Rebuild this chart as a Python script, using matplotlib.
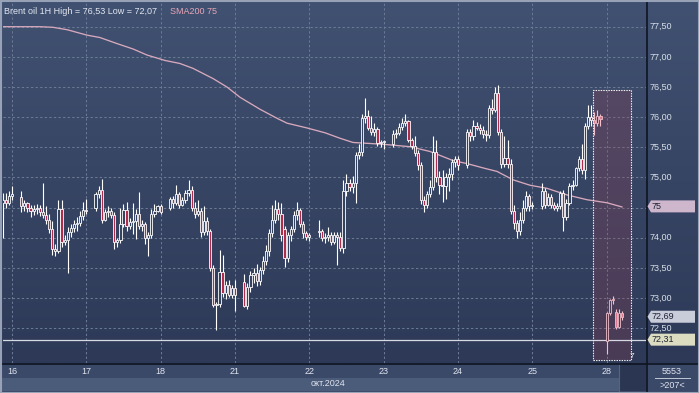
import numpy as np
import matplotlib
matplotlib.use("Agg")
import matplotlib.pyplot as plt
from matplotlib.patches import Rectangle, Polygon
from matplotlib.colors import LinearSegmentedColormap
from matplotlib.transforms import blended_transform_factory

plt.rcParams['font.family'] = ['Liberation Sans', 'DejaVu Sans']

# ---------------- data ----------------
# trading sessions: (first hourly slot, number of bars); 24 slots per calendar day
sessions = [(-3, 4), (3, 22), (27, 22), (51, 22), (75, 22), (99, 22),
            (123, 22), (147, 22), (171, 20), (192, 6)]

opens = [
    74.58, 74.63, 74.58, 74.70,
    74.68, 74.52, 74.58, 74.50, 74.45, 74.48, 74.50, 74.42, 74.38, 74.30, 74.15,
    73.82, 73.78, 74.48, 73.93, 73.97, 74.10, 74.16, 74.22, 74.25, 74.36, 74.46,
    74.50, 74.72, 74.80, 74.30, 74.42, 74.45, 74.38, 73.93, 73.96, 74.22, 74.46,
    74.20, 74.26, 74.28, 74.40, 74.20, 74.22, 74.00, 74.05, 74.40, 74.45, 74.52,
    74.50, 74.65, 74.58, 74.72, 74.55, 74.62, 74.75, 74.80, 74.50, 74.40, 74.45,
    74.10, 74.28, 74.12, 73.50, 72.88, 72.90, 73.44, 73.08, 73.22, 73.05, 73.17,
    73.27, 72.87, 73.18, 73.38, 73.42, 73.28, 73.46, 73.62, 73.78, 74.08, 74.30,
    74.48, 74.40, 74.15, 73.66, 74.05, 74.15, 74.38, 74.46, 74.22, 74.08, 74.02,
    74.10, 74.12, 74.00, 74.02, 74.05, 73.93, 74.05, 74.02, 73.83, 74.78, 74.90,
    74.84, 74.90, 75.38, 75.42, 75.98, 76.02, 75.82, 75.76, 75.80, 75.57, 75.58,
    75.55, 75.72, 75.74, 75.83, 75.90, 75.94, 75.62, 75.52, 75.40, 75.20, 74.62,
    74.55, 74.72, 74.84, 75.43, 75.00, 74.88, 74.86, 75.00, 75.05, 75.25, 75.30,
    75.20, 75.75, 75.68, 75.86, 75.82, 75.78, 75.72, 75.70, 76.15, 76.12, 76.40,
    75.75, 75.22, 75.32, 75.22, 74.45, 74.25, 74.12, 74.30, 74.50, 74.70, 74.52,
    74.52, 74.78, 74.55, 74.68, 74.55, 74.50, 74.52, 74.75, 74.35, 74.58,
    74.85, 74.88, 75.15, 75.30, 75.12, 75.85, 76.00, 75.95, 75.90, 76.02,
    72.28, 72.75, 72.96, 72.77, 72.52, 72.76,
]
highs = [
    74.74, 74.75, 74.78, 74.85,
    74.78, 74.62, 74.60, 74.55, 74.55, 74.56, 74.55, 74.90, 74.52, 74.40, 74.28,
    73.90, 74.62, 74.62, 74.05, 74.18, 74.22, 74.30, 74.35, 74.45, 74.60, 74.65,
    74.76, 74.86, 74.98, 74.48, 74.52, 74.50, 74.42, 74.00, 74.50, 74.56, 74.60,
    74.32, 74.58, 74.48, 74.76, 74.30, 74.26, 74.10, 74.48, 74.56, 74.55, 74.56,
    74.68, 74.70, 74.87, 74.76, 74.68, 74.80, 74.95, 74.85, 74.60, 74.62, 74.50,
    74.53, 74.35, 74.15, 73.55, 72.93, 73.79, 73.71, 73.28, 73.30, 73.22, 73.30,
    73.40, 73.25, 73.45, 73.50, 73.56, 73.52, 73.70, 73.88, 74.15, 74.55, 74.62,
    74.60, 74.58, 74.20, 74.10, 74.20, 74.45, 74.60, 74.50, 74.28, 74.12, 74.08,
    74.30, 74.15, 74.08, 74.18, 74.10, 74.10, 74.10, 74.10, 74.95, 75.05, 74.98,
    75.02, 75.42, 75.55, 76.05, 76.31, 76.12, 76.02, 75.90, 75.84, 75.62, 75.62,
    75.78, 75.80, 75.90, 75.98, 76.05, 75.96, 75.66, 75.68, 75.45, 75.25, 74.70,
    74.78, 74.95, 75.68, 75.62, 75.10, 75.12, 75.08, 75.15, 75.30, 75.35, 75.35,
    75.80, 75.80, 75.95, 75.92, 75.88, 75.85, 75.78, 76.20, 76.30, 76.50, 76.53,
    75.80, 75.68, 75.62, 75.30, 74.55, 74.30, 74.42, 74.62, 74.78, 74.72, 74.60,
    74.90, 74.82, 74.75, 74.72, 74.60, 74.58, 74.78, 74.80, 74.65, 74.90,
    74.95, 75.18, 75.35, 75.55, 75.90, 76.20, 76.20, 76.08, 76.12, 76.06,
    72.77, 72.99, 73.03, 72.82, 72.82, 72.78,
]
lows = [
    73.99, 74.49, 74.55, 74.62,
    74.43, 74.45, 74.42, 74.35, 74.38, 74.40, 74.36, 74.32, 74.22, 74.08, 73.72,
    73.70, 73.74, 73.85, 73.88, 73.42, 74.02, 74.10, 74.12, 74.20, 74.30, 74.40,
    74.45, 74.66, 74.25, 74.28, 74.35, 74.32, 73.82, 73.85, 73.92, 74.18, 74.12,
    74.14, 74.06, 73.98, 74.15, 74.12, 73.90, 73.70, 74.00, 74.35, 74.42, 74.40,
    74.46, 74.50, 74.55, 74.50, 74.52, 74.58, 74.70, 74.45, 74.32, 74.36, 74.02,
    74.05, 74.05, 73.45, 72.85, 72.47, 72.85, 73.02, 72.99, 73.02, 73.00, 72.78,
    72.85, 72.82, 73.10, 73.25, 73.20, 73.22, 73.40, 73.55, 73.70, 74.02, 74.25,
    74.30, 73.95, 73.52, 73.60, 73.95, 74.10, 74.30, 74.18, 74.00, 73.96, 73.95,
    74.02, 73.95, 73.92, 73.95, 73.88, 73.90, 73.55, 73.78, 73.75, 74.70, 74.78,
    74.75, 74.58, 75.30, 75.35, 75.90, 75.78, 75.70, 75.68, 75.52, 75.50, 75.48,
    75.50, 75.66, 75.70, 75.78, 75.85, 75.58, 75.48, 75.36, 75.12, 74.56, 74.42,
    74.50, 74.68, 74.80, 74.92, 74.72, 74.60, 74.65, 74.78, 74.95, 75.18, 75.12,
    75.15, 75.60, 75.62, 75.78, 75.72, 75.65, 75.60, 75.65, 76.05, 76.08, 75.70,
    75.15, 75.18, 75.15, 74.40, 74.15, 73.99, 74.05, 74.25, 74.45, 74.45, 74.48,
    74.48, 74.50, 74.52, 74.50, 74.46, 74.45, 74.48, 74.12, 74.30, 74.55,
    74.80, 74.85, 75.10, 75.05, 74.98, 75.80, 75.85, 75.70, 75.85, 75.85,
    72.07, 72.72, 72.90, 72.48, 72.50, 72.64,
]
closes = [
    74.63, 74.58, 74.70, 74.72,
    74.52, 74.58, 74.50, 74.45, 74.48, 74.50, 74.42, 74.38, 74.30, 74.15, 73.82,
    73.78, 74.48, 73.93, 73.97, 74.10, 74.16, 74.22, 74.25, 74.36, 74.46, 74.44,
    74.72, 74.80, 74.30, 74.42, 74.45, 74.38, 73.93, 73.96, 74.22, 74.46, 74.20,
    74.26, 74.28, 74.40, 74.20, 74.22, 74.00, 74.05, 74.40, 74.45, 74.52, 74.43,
    74.65, 74.58, 74.72, 74.55, 74.62, 74.75, 74.80, 74.50, 74.40, 74.45, 74.10,
    74.28, 74.12, 73.50, 72.88, 72.90, 73.44, 73.08, 73.22, 73.05, 73.17, 73.05,
    72.87, 73.18, 73.38, 73.42, 73.28, 73.46, 73.62, 73.78, 74.08, 74.30, 74.48,
    74.40, 74.05, 73.66, 74.05, 74.15, 74.38, 74.46, 74.22, 74.08, 74.02, 74.04,
    74.12, 74.00, 74.02, 74.05, 73.93, 74.05, 74.02, 73.83, 74.78, 74.90, 74.84,
    74.90, 75.38, 75.42, 75.98, 76.02, 75.82, 75.76, 75.80, 75.57, 75.58, 75.60,
    75.72, 75.74, 75.83, 75.90, 75.94, 75.62, 75.52, 75.40, 75.20, 74.62, 74.55,
    74.72, 74.84, 75.43, 75.00, 74.88, 74.86, 75.00, 75.05, 75.25, 75.30, 75.20,
    75.75, 75.68, 75.86, 75.82, 75.78, 75.72, 75.70, 76.15, 76.12, 76.40, 75.75,
    75.22, 75.32, 75.22, 74.45, 74.25, 74.12, 74.30, 74.50, 74.70, 74.52, 74.55,
    74.78, 74.55, 74.68, 74.55, 74.50, 74.52, 74.75, 74.35, 74.58, 74.85,
    74.88, 75.15, 75.30, 75.12, 75.85, 76.00, 75.95, 75.90, 76.02, 75.97,
    72.75, 72.96, 72.99, 72.52, 72.76, 72.69,
]

sma_slots = [-2.9, 9.0, 13.2, 17.8, 24.2, 28.4, 33.9, 39.1, 43.6, 49.4, 54.2, 58.4,
             64.9, 69.4, 73.6, 80.1, 85.6, 88.8, 95.3, 101.1, 105.9, 110.1, 119.8,
             128.5, 135.0, 142.4, 146.9, 152.7, 156.6, 161.8, 167.3, 172.7, 179.2,
             185.7, 192.1, 197.0]
sma_values = [77.50, 77.50, 77.49, 77.45, 77.36, 77.32, 77.22, 77.13, 77.03, 76.94,
              76.89, 76.81, 76.64, 76.50, 76.33, 76.13, 75.98, 75.90, 75.82, 75.74,
              75.65, 75.58, 75.55, 75.51, 75.43, 75.28, 75.23, 75.15, 75.10, 74.96,
              74.87, 74.82, 74.71, 74.63, 74.58, 74.51]

day_ticks = [0, 24, 48, 72, 96, 120, 144, 168, 192]
day_labels = ["16", "17", "18", "21", "22", "23", "24", "25", "28"]
month_label = "окт.2024"

price_grid = [72.5, 73.0, 73.5, 74.0, 74.5, 75.0, 75.5, 76.0, 76.5, 77.0, 77.5]
price_ticks = [72.5, 73.0, 73.5, 74.0, 75.0, 75.5, 76.0, 76.5, 77.0, 77.5]
price_tick_labels = ["72,50", "73,00", "73,50", "74,00", "75,00", "75,50",
                     "76,00", "76,50", "77,00", "77,50"]

last_price, last_label = 72.69, "72,69"
ref_price, ref_label = 72.31, "72,31"
sma_last, sma_label = 74.52, "75"

title_text = "Brent oil 1H High = 76,53 Low = 72,07"
sma_text = "SMA200 75"
bar_count_text = "5553"
bar_visible_text = ">207<"

# highlight window (slot range, price range)
hl_x0, hl_x1 = 187.6, 199.9
hl_y0, hl_y1 = 71.97, 76.45

# ---------------- layout ----------------
W, H = 699, 393
fig = plt.figure(figsize=(W / 100, H / 100), dpi=100)
fig.patch.set_facecolor('#3a4868')

def px_rect(x0, y0, x1, y1):
    return [x0 / W, 1 - y1 / H, (x1 - x0) / W, (y1 - y0) / H]

PLOT_L, PLOT_R, PLOT_T, PLOT_B = 3, 646, 1, 363
xlim = (-2.9, 204.7)
ylim = (71.923, 77.926)
px_per_unit = (PLOT_B - PLOT_T) / (ylim[1] - ylim[0])

# background axes in pixel coordinates
bg = fig.add_axes([0, 0, 1, 1])
bg.set_xlim(0, W)
bg.set_ylim(H, 0)
bg.axis('off')
bg.set_zorder(0)
grad = LinearSegmentedColormap.from_list('g', ['#415171', '#2d3957'])
bg.imshow(np.linspace(0, 1, 256).reshape(-1, 1), cmap=grad, aspect='auto',
          extent=[0, W, PLOT_B, 0], zorder=0)
# time axis strip
bg.add_patch(Rectangle((0, PLOT_B), W, 15, facecolor='#3b4969', edgecolor='none', zorder=1))
bg.add_patch(Rectangle((0, PLOT_B + 15), 646, 13, facecolor='#4b5b7a', edgecolor='none', zorder=1))
bg.add_patch(Rectangle((620, PLOT_B), 26, 28, facecolor='#2b3652', edgecolor='none', zorder=2))
bg.plot([619, 619], [PLOT_B, PLOT_B + 28], color='#55657f', lw=0.8, zorder=2)
bg.plot([0, W], [PLOT_B + 0.5, PLOT_B + 0.5], color='#0e1522', lw=1.2, zorder=3)
bg.plot([646.5, 646.5], [0, H], color='#0e1522', lw=1.2, zorder=3)
# bottom-right counter box
bg.add_patch(Rectangle((647, PLOT_B + 1), 52, 29, facecolor='#3b4969', edgecolor='none', zorder=2))
bg.text(672, 371, bar_count_text, ha='center', va='center', fontsize=6.5, color='#dfe4ee', zorder=4)
bg.plot([655, 690], [377.5, 377.5], color='#c0c8d8', lw=0.7, zorder=4)
bg.text(672, 385, bar_visible_text, ha='center', va='center', fontsize=6.5, color='#dfe4ee', zorder=4)
bg.text(345, 384, month_label, ha='right', va='center', fontsize=6.5, color='#dfe4ee', zorder=4)
# outer border
bg.add_patch(Rectangle((0.5, 0.5), W - 1, H - 1, facecolor='none', edgecolor='#98a2b6', lw=1.5, zorder=5))

# main price axes
ax = fig.add_axes(px_rect(PLOT_L, PLOT_T, PLOT_R, PLOT_B))
ax.set_zorder(2)
ax.patch.set_visible(False)
ax.set_xlim(*xlim)
ax.set_ylim(*ylim)
for s in ax.spines.values():
    s.set_visible(False)
ax.set_xticks([])
ax.set_yticks([])

grid_kw = dict(color='#6b7996', lw=0.75, ls=(0, (2.2, 2.2)), zorder=1)
for p in price_grid:
    ax.axhline(p, **grid_kw)
for d in day_ticks:
    ax.axvline(d, **grid_kw)

# highlight window
ax.add_patch(Rectangle((hl_x0, hl_y0), hl_x1 - hl_x0, hl_y1 - hl_y0,
                       facecolor=(0.62, 0.25, 0.32, 0.25), edgecolor='none', zorder=1.5))
ax.add_patch(Rectangle((hl_x0, hl_y0), hl_x1 - hl_x0, hl_y1 - hl_y0,
                       facecolor='none', edgecolor='#f0f0f0', lw=0.8,
                       ls=(0, (1.3, 1.0)), zorder=4))
ax.text(hl_x1 + 0.2, hl_y0 + 0.01, "7", fontsize=6, color='#f0f0f0',
        ha='center', va='bottom', zorder=4)

# reference line (previous close)
ax.axhline(ref_price, color='#d6dae4', lw=0.9, zorder=2.5)

# SMA 200
ax.plot(sma_slots, sma_values, color='#d7a9bd', lw=0.95, zorder=2, solid_capstyle='round')

# candles
slots = np.array([s + i for s, n in sessions for i in range(n)], dtype=float)
o = np.array(opens); h = np.array(highs); l = np.array(lows); c = np.array(closes)
body_lo = np.minimum(o, c)
body_hi = np.maximum(o, c)
body_h = np.maximum(body_hi - body_lo, 0.012)
in_hl = slots > hl_x0
bull = c >= o
edge_cols = np.where(in_hl, '#f3c0ca', '#ffffff')
face_cols = np.where(in_hl,
                     np.where(bull, '#4c3d57', '#d9788f'),
                     np.where(bull, '#35435f', '#b02c4c'))
ax.vlines(slots, l, body_lo, colors=edge_cols, lw=0.8, zorder=3)
ax.vlines(slots, body_hi, h, colors=edge_cols, lw=0.8, zorder=3)
ax.bar(slots, body_h, bottom=body_lo, width=0.72, color=face_cols,
       edgecolor=edge_cols, linewidth=0.6, zorder=3.2)

# title
ax.text(0.5 / 643, 1 - 10 / 362, title_text, transform=ax.transAxes, fontsize=6.5,
        color='#e3e8f2', ha='left', va='center', zorder=5)
ax.text(167 / 643, 1 - 10 / 362, sma_text, transform=ax.transAxes, fontsize=6.5,
        color='#e7a6b8', ha='left', va='center', zorder=5)

# price axis (right)
axp = fig.add_axes(px_rect(PLOT_R, PLOT_T, W, PLOT_B))
axp.set_zorder(2)
axp.patch.set_visible(False)
axp.set_ylim(*ylim)
axp.set_xlim(0, 1)
axp.axis('off')
tr = blended_transform_factory(axp.transAxes, axp.transData)
for p, lab in zip(price_ticks, price_tick_labels):
    axp.text(4 / 53, p, lab, transform=tr, fontsize=6.5, color='#d8dfea',
             ha='left', va='center')

dy = 6.0 / px_per_unit
for p, lab, col in [(sma_last, sma_label, '#ceb6cc'),
                    (last_price, last_label, '#c9cdd9'),
                    (ref_price, ref_label, '#dcdcc0')]:
    poly = Polygon([(1.5 / 53, p), (5 / 53, p + dy), (49 / 53, p + dy),
                    (49 / 53, p - dy), (5 / 53, p - dy)], closed=True,
                   transform=tr, facecolor=col, edgecolor='none', zorder=3)
    axp.add_patch(poly)
    axp.text(5.5 / 53, p, lab, transform=tr, fontsize=6.5, color='#1b2233',
             ha='left', va='center', zorder=4)

# time axis labels (data x positions)
axt = fig.add_axes(px_rect(PLOT_L, PLOT_B + 1, PLOT_R, PLOT_B + 15))
axt.set_zorder(2)
axt.patch.set_visible(False)
axt.set_xlim(*xlim)
axt.set_ylim(0, 1)
axt.axis('off')
for d, lab in zip(day_ticks, day_labels):
    axt.text(d, 0.45, lab, fontsize=6.5, color='#dfe4ee', ha='center', va='center')

fig.savefig('out.png', dpi=100, facecolor=fig.get_facecolor())
